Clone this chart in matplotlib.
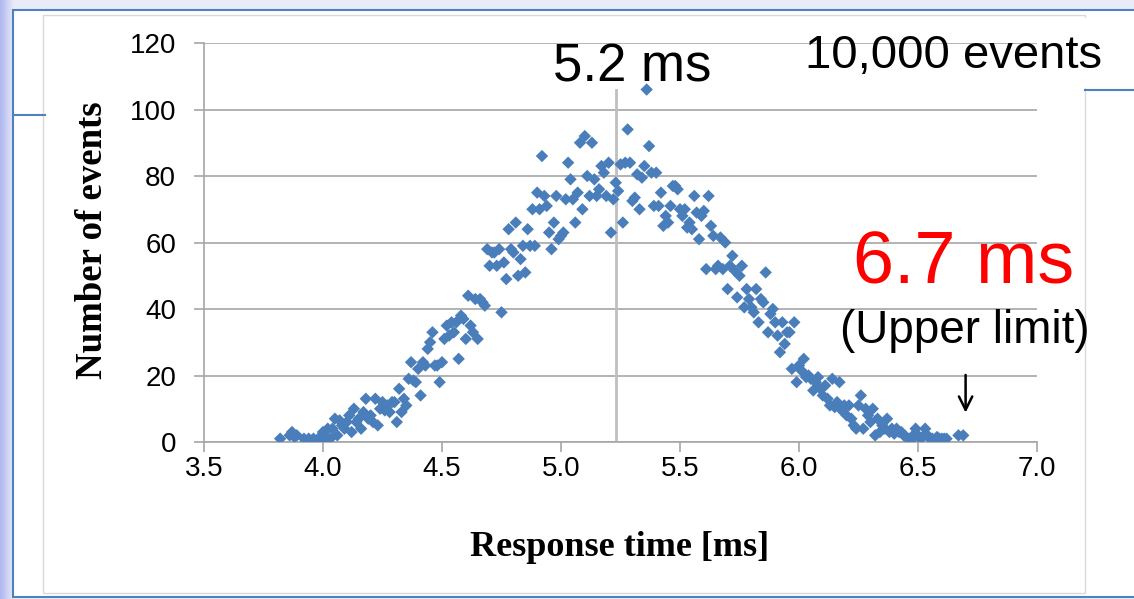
import matplotlib
matplotlib.use("Agg")
import matplotlib.pyplot as plt
from matplotlib.patches import Rectangle
from matplotlib.lines import Line2D
import numpy as np

# histogram of response times, 10,000 events
response_time_ms = [
    3.82, 3.86, 3.87, 3.88, 3.89, 3.92, 3.94, 3.96, 3.98, 3.99,
    4.00, 4.01, 4.02, 4.03, 4.04, 4.05, 4.06, 4.07, 4.08, 4.09,
    4.10, 4.11, 4.12, 4.13, 4.14, 4.15, 4.16, 4.17, 4.18, 4.19,
    4.20, 4.21, 4.22, 4.23, 4.24, 4.25, 4.26, 4.27, 4.28, 4.29,
    4.30, 4.31, 4.32, 4.33, 4.34, 4.35, 4.36, 4.37, 4.38, 4.39,
    4.40, 4.41, 4.42, 4.43, 4.44, 4.45, 4.46, 4.47, 4.48, 4.49,
    4.50, 4.51, 4.52, 4.53, 4.54, 4.55, 4.56, 4.57, 4.58, 4.59,
    4.60, 4.61, 4.62, 4.63, 4.64, 4.65, 4.66, 4.67, 4.68, 4.69,
    4.70, 4.71, 4.72, 4.73, 4.74, 4.75, 4.76, 4.77, 4.78, 4.79,
    4.80, 4.81, 4.82, 4.83, 4.84, 4.85, 4.86, 4.87, 4.88, 4.89,
    4.90, 4.91, 4.92, 4.93, 4.94, 4.95, 4.96, 4.97, 4.98, 4.99,
    5.00, 5.01, 5.02, 5.03, 5.04, 5.05, 5.06, 5.07, 5.08, 5.09,
    5.10, 5.11, 5.12, 5.13, 5.14, 5.15, 5.16, 5.17, 5.18, 5.19,
    5.20, 5.21, 5.22, 5.23, 5.24, 5.25, 5.26, 5.27, 5.28, 5.29,
    5.30, 5.31, 5.32, 5.33, 5.34, 5.35, 5.36, 5.37, 5.38, 5.39,
    5.40, 5.41, 5.42, 5.43, 5.44, 5.45, 5.46, 5.47, 5.48, 5.49,
    5.50, 5.51, 5.52, 5.53, 5.54, 5.55, 5.56, 5.57, 5.58, 5.59,
    5.60, 5.61, 5.62, 5.63, 5.64, 5.65, 5.66, 5.67, 5.68, 5.69,
    5.70, 5.71, 5.72, 5.73, 5.74, 5.75, 5.76, 5.77, 5.78, 5.79,
    5.80, 5.81, 5.82, 5.83, 5.84, 5.85, 5.86, 5.87, 5.88, 5.89,
    5.90, 5.91, 5.92, 5.93, 5.94, 5.95, 5.96, 5.97, 5.98, 5.99,
    6.00, 6.01, 6.02, 6.03, 6.04, 6.05, 6.06, 6.07, 6.08, 6.09,
    6.10, 6.11, 6.12, 6.13, 6.14, 6.15, 6.16, 6.17, 6.18, 6.19,
    6.20, 6.21, 6.22, 6.23, 6.24, 6.25, 6.26, 6.27, 6.28, 6.29,
    6.30, 6.31, 6.32, 6.33, 6.34, 6.35, 6.36, 6.37, 6.38, 6.39,
    6.40, 6.41, 6.42, 6.43, 6.44, 6.45, 6.46, 6.47, 6.48, 6.49,
    6.50, 6.51, 6.52, 6.53, 6.54, 6.55, 6.56, 6.57, 6.58, 6.59,
    6.60, 6.61, 6.62, 6.67, 6.69,
]
event_counts = [
    1, 2, 3, 1.5, 2, 1, 1, 1, 1, 1,
    3, 1.5, 4, 1, 4, 7, 2, 6.5, 5, 4,
    6, 8, 3, 10, 6, 7, 4, 9, 13, 7,
    8, 6, 13, 5, 10, 12, 9.5, 11, 9, 12,
    12, 6, 16, 9, 13, 11, 19, 24, 18.5, 18,
    22, 14, 24, 23, 28, 30, 33, 23, 23, 18,
    24, 31, 35, 32, 36, 33, 36, 25, 38, 37,
    31, 44, 35, 33, 43, 31, 43, 42, 41, 58,
    53, 57, 57, 53, 58, 39, 54, 49, 64, 58,
    57, 66, 50, 55, 59, 51, 64, 59, 70, 59,
    75, 70, 86, 74, 71, 63, 58, 66, 74, 61,
    62, 63, 73, 84, 79, 73, 66, 75, 90, 70,
    92, 80, 74, 90, 79, 74, 76, 83, 81, 74,
    84, 63, 73, 78, 75.5, 83.5, 66, 84, 94, 84,
    72.5, 73.5, 80.5, 70, 79.5, 83, 106, 89, 81, 71,
    81, 71, 75, 65, 68, 66, 71, 77, 77, 76,
    70, 68, 70, 64.5, 66, 64, 74, 69, 61, 68,
    69.5, 52, 74, 65, 62, 52, 53, 61.5, 52, 60,
    46, 53, 56, 51.5, 43.5, 50, 53, 40.5, 46, 43,
    40.5, 39, 46, 36, 43, 42, 51, 33, 38.5, 40,
    36, 32, 27, 36, 29.5, 33, 33, 22, 36, 18,
    23, 21.5, 25, 19.5, 20, 19, 15.5, 18, 19.5, 16,
    14, 17, 13, 11, 19, 10.5, 12, 18, 9.5, 11,
    8, 11, 7, 5, 4, 11, 14, 4, 10, 8,
    6, 10, 2, 7, 3, 5, 4, 7, 3, 4,
    2.5, 4, 3, 3, 2, 1.5, 1, 0.5, 2, 4,
    2, 1, 1.5, 4, 2, 1, 1, 0.5, 1.5, 1,
    1, 1, 1, 2, 2,
]

x_ticks = [3.5, 4.0, 4.5, 5.0, 5.5, 6.0, 6.5, 7.0]
y_ticks = [0, 20, 40, 60, 80, 100, 120]
mean_time_ms = 5.23
upper_limit_ms = 6.70

W, H = 1134, 599
fig = plt.figure(figsize=(W / 100, H / 100), dpi=100)
fig.patch.set_facecolor("#e9ebf9")


def fx(px):
    return px / W


def fy(py):
    return 1 - py / H


# slide background: gradient strip on the left
bg = fig.add_axes([0, 0, 1, 1], zorder=-10)
bg.axis("off")
grad = np.linspace(0, 1, 40).reshape(1, -1)
bg.imshow(grad, cmap=matplotlib.colors.LinearSegmentedColormap.from_list(
    "g", ["#aeb6ee", "#e9ebf9"]), extent=[0, 14, 0, H], aspect="auto")
bg.set_xlim(0, W)
bg.set_ylim(H, 0)

# white content box with blue outline
bg.add_patch(Rectangle((13, 10), W, 587, facecolor="white",
                       edgecolor="#4f81bd", lw=1.5))
# title underline partly hidden behind the chart
bg.add_line(Line2D([13, 45], [115, 115], color="#4f81bd", lw=1.5))
bg.add_line(Line2D([1085, W], [90, 90], color="#4f81bd", lw=1.5))
# chart object border
bg.add_patch(Rectangle((43, 15), 1042, 578, facecolor="white",
                       edgecolor="#d9d9d9", lw=1))

ax = fig.add_axes([fx(204), fy(442), fx(1037) - fx(204), fy(43) - fy(442)])
ax.set_facecolor("none")

ax.scatter(response_time_ms, event_counts, marker="D", s=40,
           color="#4a7ebb", edgecolors="none", zorder=3)

ax.set_xlim(3.5, 7.0)
ax.set_ylim(0, 120)
ax.set_xticks(x_ticks)
ax.set_xticklabels([f"{v:.1f}" for v in x_ticks])
ax.set_yticks(y_ticks)
ax.grid(axis="y", color="#a6a6a6", lw=1.2)
ax.set_axisbelow(True)
for s in ["top", "right"]:
    ax.spines[s].set_visible(False)
for s in ["left", "bottom"]:
    ax.spines[s].set_color("#a6a6a6")
    ax.spines[s].set_linewidth(1.2)
ax.tick_params(axis="x", direction="out", length=7, width=1.2,
               color="#a6a6a6", pad=3, labelsize=20)
ax.tick_params(axis="y", direction="out", length=7, width=1.2,
               color="#a6a6a6", pad=13, labelsize=20)
for lab in ax.get_xticklabels() + ax.get_yticklabels():
    lab.set_fontfamily("Liberation Sans")

ax.axvline(mean_time_ms, ymin=0, ymax=106 / 120, color="#bfbfbf", lw=2, zorder=2)

fig.text(fx(620), fy(548), "Response time [ms]", ha="center", va="center",
         family="Liberation Serif", weight="bold", fontsize=26)
fig.text(fx(93), fy(240), "Number of events", ha="center", va="center",
         rotation=90, family="Liberation Serif", weight="bold", fontsize=26.5)

# "10,000 events" text box covers the top-right corner
bg.add_patch(Rectangle((775, 18), W - 775, 70, facecolor="white",
                       edgecolor="none", zorder=5))
fig.text(fx(954), fy(68), "10,000 events", ha="center", va="baseline",
         family="Liberation Sans", fontsize=34)
fig.text(fx(632), fy(82), "5.2 ms", ha="center", va="baseline",
         family="Liberation Sans", fontsize=38)
fig.text(fx(964), fy(283), "6.7 ms", ha="center", va="baseline",
         family="Liberation Sans", fontsize=53, color="#ff0000")
fig.text(fx(965), fy(343), "(Upper limit)", ha="center", va="baseline",
         family="Liberation Sans", fontsize=33)

ax.annotate("", xy=(upper_limit_ms, 8), xytext=(upper_limit_ms, 21),
            arrowprops=dict(arrowstyle="->", color="black", lw=1.8,
                            mutation_scale=24))

fig.savefig("out.png", dpi=100, facecolor=fig.get_facecolor())
